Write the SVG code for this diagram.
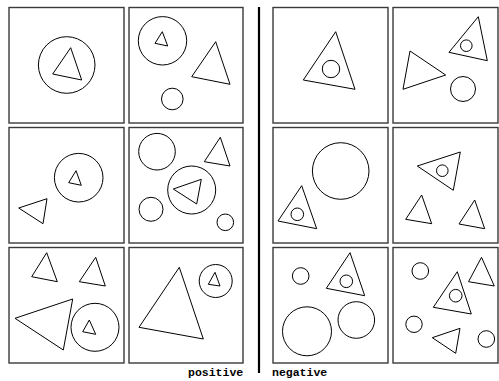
<svg xmlns="http://www.w3.org/2000/svg" width="499" height="381" viewBox="0 0 499 381">
<style>
.panel{fill:#fff;stroke:#3a3a3a;stroke-width:1.4}
.s{fill:none;stroke:#000;stroke-width:1}
.lbl{font-family:"Liberation Mono","DejaVu Sans Mono",monospace;font-size:11.5px;font-weight:bold;fill:#000}
</style>
<rect width="499" height="381" fill="#fff"/>
<g id="divider"><line x1="259" y1="7" x2="259" y2="373" stroke="#000" stroke-width="2.2"/></g>

<g id="p1">
<rect class="panel" x="9" y="7.5" width="115" height="115.5"/>
<circle class="s" cx="66.7" cy="65" r="28.3"/>
<polygon class="s" points="70.7,47.7 52.7,74 81.7,80"/>
</g>
<g id="p2">
<rect class="panel" x="129" y="7.5" width="114" height="115.5"/>
<circle class="s" cx="162.5" cy="40.8" r="24.2"/>
<polygon class="s" points="162.3,31.7 155,43.3 167.7,46"/>
<polygon class="s" points="215.7,41.7 191.7,76.7 230,84.3"/>
<circle class="s" cx="172.3" cy="99" r="10.8"/>
</g>
<g id="p3">
<rect class="panel" x="273" y="7.5" width="115" height="115.5"/>
<polygon class="s" points="335.7,31.7 303.3,80 355,89.3"/>
<circle class="s" cx="331" cy="69" r="8.7"/>
</g>
<g id="p4">
<rect class="panel" x="393" y="7.5" width="105" height="115.5"/>
<polygon class="s" points="478.3,16.7 449,52.3 487.3,60.7"/>
<circle class="s" cx="466.3" cy="45.7" r="5.8"/>
<polygon class="s" points="410,51 403,89.3 445.7,75"/>
<circle class="s" cx="463" cy="89" r="12.5"/>
</g>

<g id="p5">
<rect class="panel" x="9" y="127.5" width="115" height="115.5"/>
<circle class="s" cx="78.7" cy="177.7" r="24.3"/>
<polygon class="s" points="76,170.7 68.7,182.7 81.3,185.3"/>
<polygon class="s" points="47,198.7 18.7,208 43,223.7"/>
</g>
<g id="p6">
<rect class="panel" x="129" y="127.5" width="114" height="115.5"/>
<circle class="s" cx="157" cy="151.7" r="18.3"/>
<polygon class="s" points="220.3,137.3 204.3,161.7 230,166"/>
<circle class="s" cx="191.7" cy="190" r="24"/>
<polygon class="s" points="201.3,179.3 173.3,189 196.7,204"/>
<circle class="s" cx="151" cy="209.3" r="12"/>
<circle class="s" cx="225.3" cy="222.3" r="8.3"/>
</g>
<g id="p7">
<rect class="panel" x="273" y="127.5" width="115" height="115.5"/>
<circle class="s" cx="340.7" cy="171" r="28.3"/>
<polygon class="s" points="301.7,185.7 278,221 316.7,228.7"/>
<circle class="s" cx="297.3" cy="214.3" r="6.3"/>
</g>
<g id="p8">
<rect class="panel" x="393" y="127.5" width="105" height="115.5"/>
<polygon class="s" points="460.3,152 417.3,166 453.3,190.3"/>
<circle class="s" cx="442.3" cy="170.7" r="5.8"/>
<polygon class="s" points="421.7,195 405.7,219.3 431.7,223.7"/>
<polygon class="s" points="474.7,200 459,224 484.7,228.7"/>
</g>

<g id="p9">
<rect class="panel" x="9" y="247.5" width="115" height="115.5"/>
<polygon class="s" points="46.7,252.7 31.7,276.7 57.3,281.7"/>
<polygon class="s" points="95.7,257.3 79.3,281.7 105.3,286"/>
<polygon class="s" points="72.7,299 15,318.3 63.3,350"/>
<circle class="s" cx="95" cy="327.3" r="24"/>
<polygon class="s" points="89.3,320 82.7,331.7 95.7,334.3"/>
</g>
<g id="p10">
<rect class="panel" x="129" y="247.5" width="114" height="115.5"/>
<polygon class="s" points="179.3,267.3 139,327.3 203.3,339"/>
<circle class="s" cx="215.7" cy="281" r="16.5"/>
<polygon class="s" points="215,272.3 208.3,284.3 220,286"/>
</g>
<g id="p11">
<rect class="panel" x="273" y="247.5" width="115" height="115.5"/>
<circle class="s" cx="300.7" cy="276" r="8.3"/>
<polygon class="s" points="350,252.7 326.3,288.3 364.7,295.7"/>
<circle class="s" cx="346.3" cy="281.3" r="6.3"/>
<circle class="s" cx="307" cy="331.3" r="24.5"/>
<circle class="s" cx="356.3" cy="320" r="18.3"/>
</g>
<g id="p12">
<rect class="panel" x="393" y="247.5" width="105" height="115.5"/>
<circle class="s" cx="420.3" cy="271" r="8.3"/>
<polygon class="s" points="481.5,257.3 468.5,281.7 494.3,286"/>
<polygon class="s" points="457.3,271.7 433.3,307.3 471.3,314"/>
<circle class="s" cx="455.7" cy="295.7" r="6.3"/>
<circle class="s" cx="414" cy="324.3" r="8.2"/>
<polygon class="s" points="460,328.3 432.3,337.7 455.7,353.3"/>
<circle class="s" cx="486.3" cy="339" r="8.3"/>
</g>

<g id="labels">
<text class="lbl" x="188" y="376">positive</text>
<text class="lbl" x="272" y="376">negative</text>
</g>
</svg>
